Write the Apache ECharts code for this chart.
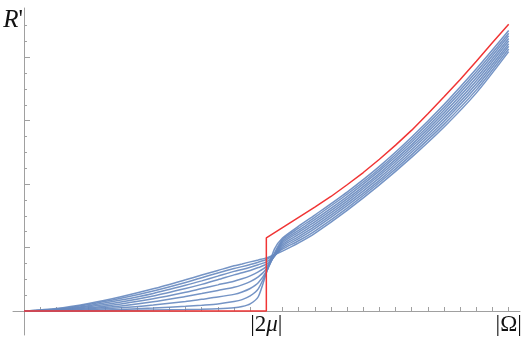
<!DOCTYPE html>
<html>
<head>
<meta charset="utf-8">
<script src="https://cdn.jsdelivr.net/npm/echarts@6/dist/echarts.min.js"></script>
<style>
html,body{margin:0;padding:0;background:#fff;}
#chart{width:532px;height:339px;}
</style>
</head>
<body>
<div id="chart"></div>
<script>
// x positions (units: |2μ| = 15, |Ω| = 30)
const xBlue = [0,2,4,6,8,10,11,12,13,13.5,14,14.5,15,15.5,16,17,18,20,22,24,26,28,30];
const blue1 = [0,0,0.01,0.03,0.06,0.09,0.11,0.14,0.2,0.28,0.45,0.9,2.4,3.9,4.6,5.35,6.05,7.5,9.12,10.97,13.02,15.27,17.68];
const blue2 = [0,0.01,0.04,0.1,0.19,0.3,0.37,0.45,0.6,0.72,0.95,1.4,2.45,3.65,4.5,5.22,5.91,7.36,8.97,10.81,12.84,15.08,17.51];
const blue3 = [0,0.02,0.08,0.2,0.38,0.6,0.74,0.88,1.05,1.2,1.42,1.78,2.5,3.55,4.4,5.09,5.76,7.21,8.83,10.65,12.67,14.89,17.35];
const blue4 = [0,0.04,0.14,0.32,0.58,0.92,1.1,1.3,1.5,1.65,1.85,2.15,2.65,3.5,4.3,4.96,5.62,7.07,8.68,10.49,12.49,14.7,17.18];
const blue5 = [0,0.06,0.2,0.45,0.77,1.18,1.42,1.65,1.88,2.03,2.22,2.47,2.8,3.45,4.2,4.83,5.48,6.93,8.54,10.34,12.31,14.51,17.02];
const blue6 = [0,0.08,0.27,0.57,0.95,1.42,1.68,1.97,2.28,2.41,2.56,2.74,2.95,3.45,4.1,4.69,5.33,6.78,8.39,10.18,12.13,14.32,16.85];
const blue7 = [0,0.1,0.34,0.69,1.11,1.62,1.9,2.2,2.5,2.62,2.76,2.92,3.1,3.48,4.0,4.56,5.19,6.64,8.24,10.02,11.96,14.13,16.69];
const blue8 = [0,0.13,0.41,0.8,1.26,1.8,2.1,2.4,2.68,2.8,2.93,3.08,3.25,3.52,3.9,4.43,5.04,6.49,8.1,9.86,11.78,13.94,16.52];
const blue9 = [0,0.16,0.48,0.9,1.4,1.97,2.27,2.56,2.85,2.97,3.1,3.22,3.35,3.55,3.78,4.3,4.9,6.35,7.95,9.7,11.6,13.75,16.35];

const redX = [0,15,15,16,17,18,19,20,21,22,23,24,25,26,27,28,29,30];
const redY = [0,0,4.61,5.26,5.91,6.55,7.22,7.96,8.73,9.57,10.46,11.4,12.44,13.5,14.6,15.75,16.92,18.08];

const xTickValues = [1,2,3,4,5,6,7,8,9,10,11,12,13,14,15,16,17,18,19,20,21,22,23,24,25,26,27,28,29,30];
const xLabelValues = [15,30];
const xLabelTexts = ['|2{m|μ}|','|Ω|'];
const yMinorTicks = [1,2,3,5,6,7,9,10,11,13,14,15,17,18];
const yMajorTicks = [4,8,12,16];

const blueSets = [blue1,blue2,blue3,blue4,blue5,blue6,blue7,blue8,blue9];
const axisGray = '#a0a0a0';
const serif = 'Liberation Serif, DejaVu Serif, serif';

const series = blueSets.map(arr => ({
  type: 'line',
  data: xBlue.map((x, i) => [x, arr[i]]),
  showSymbol: false,
  smooth: 0.25,
  lineStyle: { color: '#6688bf', width: 1.5, opacity: 0.9 },
  silent: true,
  z: 2
}));
series.push({
  type: 'line',
  data: redX.map((x, i) => [x, redY[i]]),
  showSymbol: false,
  lineStyle: { color: '#f03535', width: 1.5 },
  silent: true,
  z: 3
});

const option = {
  animation: false,
  backgroundColor: '#fff',
  grid: { left: 13, right: 12, top: 8, bottom: 4, containLabel: false, outerBoundsMode: 'none' },
  xAxis: {
    type: 'value',
    min: -0.68,
    max: 30.7,
    offset: -24,
    splitLine: { show: false },
    axisLine: { show: true, onZero: false, lineStyle: { color: axisGray, width: 1 } },
    axisTick: { show: true, inside: true, length: 4, customValues: xTickValues, lineStyle: { color: axisGray } },
    axisLabel: {
      show: true,
      customValues: xLabelValues,
      formatter: v => xLabelTexts[xLabelValues.indexOf(v)] || '',
      fontFamily: serif,
      fontSize: 23,
      color: '#111',
      margin: 2,
      rich: {
        m: { fontFamily: serif, fontStyle: 'italic', fontSize: 23, color: '#111' }
      }
    }
  },
  yAxis: [
    {
      type: 'value',
      min: -1.51,
      max: 19.1,
      position: 'left',
      splitLine: { show: false },
      axisLabel: { show: false },
      axisLine: { show: true, onZero: true, lineStyle: { color: axisGray, width: 1 } },
      name: "{i|R}{p|'}",
      nameLocation: 'end',
      nameGap: -12,
      nameTextStyle: {
        align: 'right',
        verticalAlign: 'middle',
        padding: [0, 1, 0, 0],
        rich: {
          i: { fontFamily: serif, fontStyle: 'italic', fontSize: 25, color: '#111' },
          p: { fontFamily: serif, fontSize: 25, color: '#111' }
        }
      },
      axisTick: { show: true, inside: true, length: 3, customValues: yMinorTicks, lineStyle: { color: axisGray } }
    },
    {
      type: 'value',
      min: -1.51,
      max: 19.1,
      position: 'left',
      offset: -11,
      splitLine: { show: false },
      axisLabel: { show: false },
      axisLine: { show: false, onZero: false },
      axisTick: { show: true, inside: true, length: 6, customValues: yMajorTicks, lineStyle: { color: axisGray } }
    }
  ],
  series: series
};

const chart = echarts.init(document.getElementById('chart'), null, { renderer: 'canvas' });
chart.setOption(option);
</script>
</body>
</html>
